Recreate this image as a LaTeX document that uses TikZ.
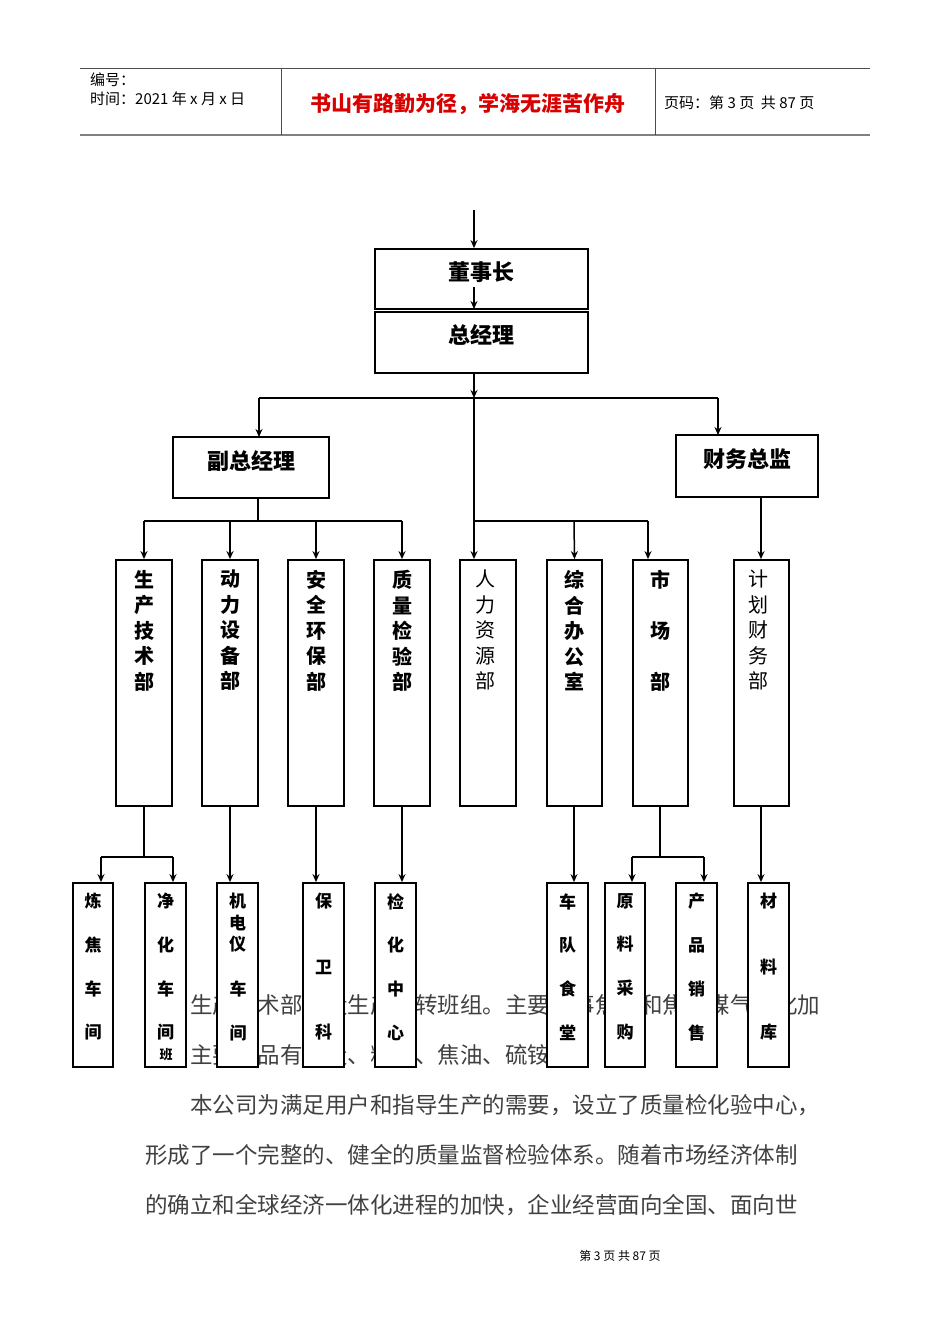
\documentclass[tikz,border=0pt]{standalone}
\usepackage{fontspec}
\setmainfont{Noto Sans CJK SC}
\usetikzlibrary{arrows.meta}
\tikzset{
 bx/.style={draw, line width=1.8pt, fill=white, inner sep=0pt},
 ar/.style={line width=1.5pt, -{Stealth[length=8pt,width=7pt]}},
 ln/.style={line width=1.5pt},
 lbl/.style={font=\bfseries\fontsize{20}{25.5}\selectfont, align=center, anchor=north, inner sep=0pt},
 sl/.style={font=\bfseries\fontsize{17}{43.7}\selectfont, align=center, anchor=north, inner sep=0pt},
 body/.style={font=\fontsize{22.5}{22.5}\selectfont, text=black!75, anchor=west, inner sep=0pt},
 hd/.style={anchor=west,inner sep=0pt,font=\fontsize{15}{15}\selectfont},
}
\newcommand\mybox[5]{\node[bx, minimum width=#4-#2, minimum height=#5-#3] (#1) at ({(#2+#4)/2},{(#3+#5)/2}) {};}
\begin{document}
\begin{tikzpicture}[x=1pt,y=-1pt]
\useasboundingbox (0,0) rectangle (950,1344);
% header
\draw[line width=0.8pt, black!70] (80,68) -- (870,68);
\draw[line width=1.5pt, black!50] (80,135) -- (870,135);
\draw[line width=0.6pt, black!70] (281,68) -- (281,135) (655,68) -- (655,135);
\node[hd] (h1) at (90,80) {编号：};
\node[hd] (h2) at (90,99) {时间：2021 年 x 月 x 日};
\node[inner sep=0pt,font=\bfseries\fontsize{21}{21}\selectfont, text=red!85!black] (h3) at (468,104) {书山有路勤为径，学海无涯苦作舟};
\node[hd] (h4) at (664,103) {页码：第 3 页\ \ 共 87 页};
% body text behind
\node[body] (t1) at (190,1005) {生产技术部下设生产运转班组。主要从事焦炭和焦炉煤气净化加};
\node[body] (t2) at (190,1055) {主要产品有焦炭、粗苯、焦油、硫铵等。};
\node[body] (t3) at (190,1105) {本公司为满足用户和指导生产的需要，设立了质量检化验中心，};
\node[body] (t4) at (145,1155) {形成了一个完整的、健全的质量监督检验体系。随着市场经济体制};
\node[body] (t5) at (145,1205) {的确立和全球经济一体化进程的加快，企业经营面向全国、面向世};
\node[inner sep=0pt,font=\fontsize{12}{12}\selectfont] (ft) at (620,1256) {第\ 3\ 页\ 共\ 87\ 页};
% top boxes
\coordinate (top) at (474,210);
\mybox{dsz}{375}{249}{588}{309}
\mybox{zjl}{375}{312}{588}{373}
\node[font=\bfseries\fontsize{22}{22}\selectfont,inner sep=0pt] at (481,272) {董事长};
\node[font=\bfseries\fontsize{22}{22}\selectfont,inner sep=0pt] at (481,335) {总经理};
\draw[ar] (top) -- (dsz.north -| top);
\coordinate (m1) at (474,287);
\draw[ar] (m1) -- (474,309);
\mybox{fz}{173}{437}{329}{498}
\mybox{cw}{676}{435}{818}{497}
\node[font=\bfseries\fontsize{22}{22}\selectfont,inner sep=0pt] at (251,461) {副总经理};
\node[font=\bfseries\fontsize{22}{22}\selectfont,inner sep=0pt] at (747,459) {财务总监};
\coordinate (j1) at (474,398);
\draw[ar] (zjl.south -| top) -- (j1);
\draw[ln] (259,398) -- (718,398);
\draw[ar] (259,398) -- (259,437);
\draw[ar] (718,398) -- (718,435);
% tall boxes
\mybox{b1}{116}{560}{172}{806}
\mybox{b2}{202}{560}{258}{806}
\mybox{b3}{288}{560}{344}{806}
\mybox{b4}{374}{560}{430}{806}
\mybox{b5}{460}{560}{516}{806}
\mybox{b6}{547}{560}{602}{806}
\mybox{b7}{633}{560}{688}{806}
\mybox{b8}{734}{560}{789}{806}
\node[lbl] at (144,570) {生\\产\\技\\术\\部};
\node[lbl] at (230,570) {动\\力\\设\\备\\部};
\node[lbl] at (316,570) {安\\全\\环\\保\\部};
\node[lbl] at (402,570) {质\\量\\检\\验\\部};
\node[lbl,font=\fontsize{20}{25.5}\selectfont] at (485,570) {人\\力\\资\\源\\部};
\node[lbl] at (574,570) {综\\合\\办\\公\\室};
\node[lbl] at (660,570) {市\\\\场\\\\部};
\node[lbl,font=\fontsize{20}{25.5}\selectfont] at (758,570) {计\\划\\财\\务\\部};
\coordinate (fzb) at (258,498);
\draw[ln] (fzb) -- (258,521);
\draw[ln] (144,521) -- (402,521);
\foreach \x/\b in {144/b1,230/b2,316/b3,402/b4} \draw[ar] (\x,521) -- (\b.north -| \x,0);
\draw[ar] (j1) -- (b5.north -| j1);
\draw[ln] (474,521) -- (648,521);
\draw[ar] (574,521) -- (b6.north);
\draw[ar] (648,521) -- (b7.north -| 648,0);
\draw[ar] (cw.south -| 761,0) -- (b8.north -| 761,0);
% bottom boxes
\mybox{c1}{73}{883}{113}{1067}
\mybox{c2}{145}{883}{186}{1067}
\mybox{c3}{217}{883}{258}{1067}
\mybox{c4}{303}{883}{344}{1067}
\mybox{c5}{375}{883}{416}{1067}
\mybox{c6}{547}{883}{588}{1067}
\mybox{c7}{605}{883}{645}{1067}
\mybox{c8}{676}{883}{717}{1067}
\mybox{c9}{748}{883}{789}{1067}
\node[sl] at (c1.north) [yshift=-11pt] {炼\\焦\\车\\间};
\node[sl] at (c2.north) [yshift=-11pt] {净\\化\\车\\间};
\node[inner sep=0pt,font=\bfseries\fontsize{13}{13}\selectfont] at (166,1055) {班};
\node[sl,font=\bfseries\fontsize{17}{21.5}\selectfont] at (c3.north) [yshift=-11pt] {机\\电\\仪};
\node[sl] at (238,981) {车\\间};
\node[sl,font=\bfseries\fontsize{17}{65.5}\selectfont] at (c4.north) [yshift=-11pt] {保\\卫\\科};
\node[sl] at (c5.north) [yshift=-11pt] {检\\化\\中\\心};
\node[sl] at (c6.north) [yshift=-11pt] {车\\队\\食\\堂};
\node[sl] at (c7.north) [yshift=-11pt] {原\\料\\采\\购};
\node[sl] at (c8.north) [yshift=-11pt] {产\\品\\销\\售};
\node[sl,font=\bfseries\fontsize{17}{65.5}\selectfont] at (c9.north) [yshift=-11pt] {材\\料\\库};
\draw[ln] (b1.south) -- (144,857);
\draw[ln] (101,857) -- (173,857);
\draw[ar] (101,857) -- (c1.north -| 101,0);
\draw[ar] (173,857) -- (c2.north -| 173,0);
\draw[ar] (b2.south) -- (c3.north -| 230,0);
\draw[ar] (b3.south) -- (c4.north -| 316,0);
\draw[ar] (b4.south) -- (c5.north -| 402,0);
\draw[ar] (b6.south -| 574,0) -- (c6.north -| 574,0);
\draw[ln] (b7.south -| 660,0) -- (660,857);
\draw[ln] (632,857) -- (704,857);
\draw[ar] (632,857) -- (c7.north -| 632,0);
\draw[ar] (704,857) -- (c8.north -| 704,0);
\draw[ar] (b8.south -| 761,0) -- (c9.north -| 761,0);
\end{tikzpicture}
\end{document}
